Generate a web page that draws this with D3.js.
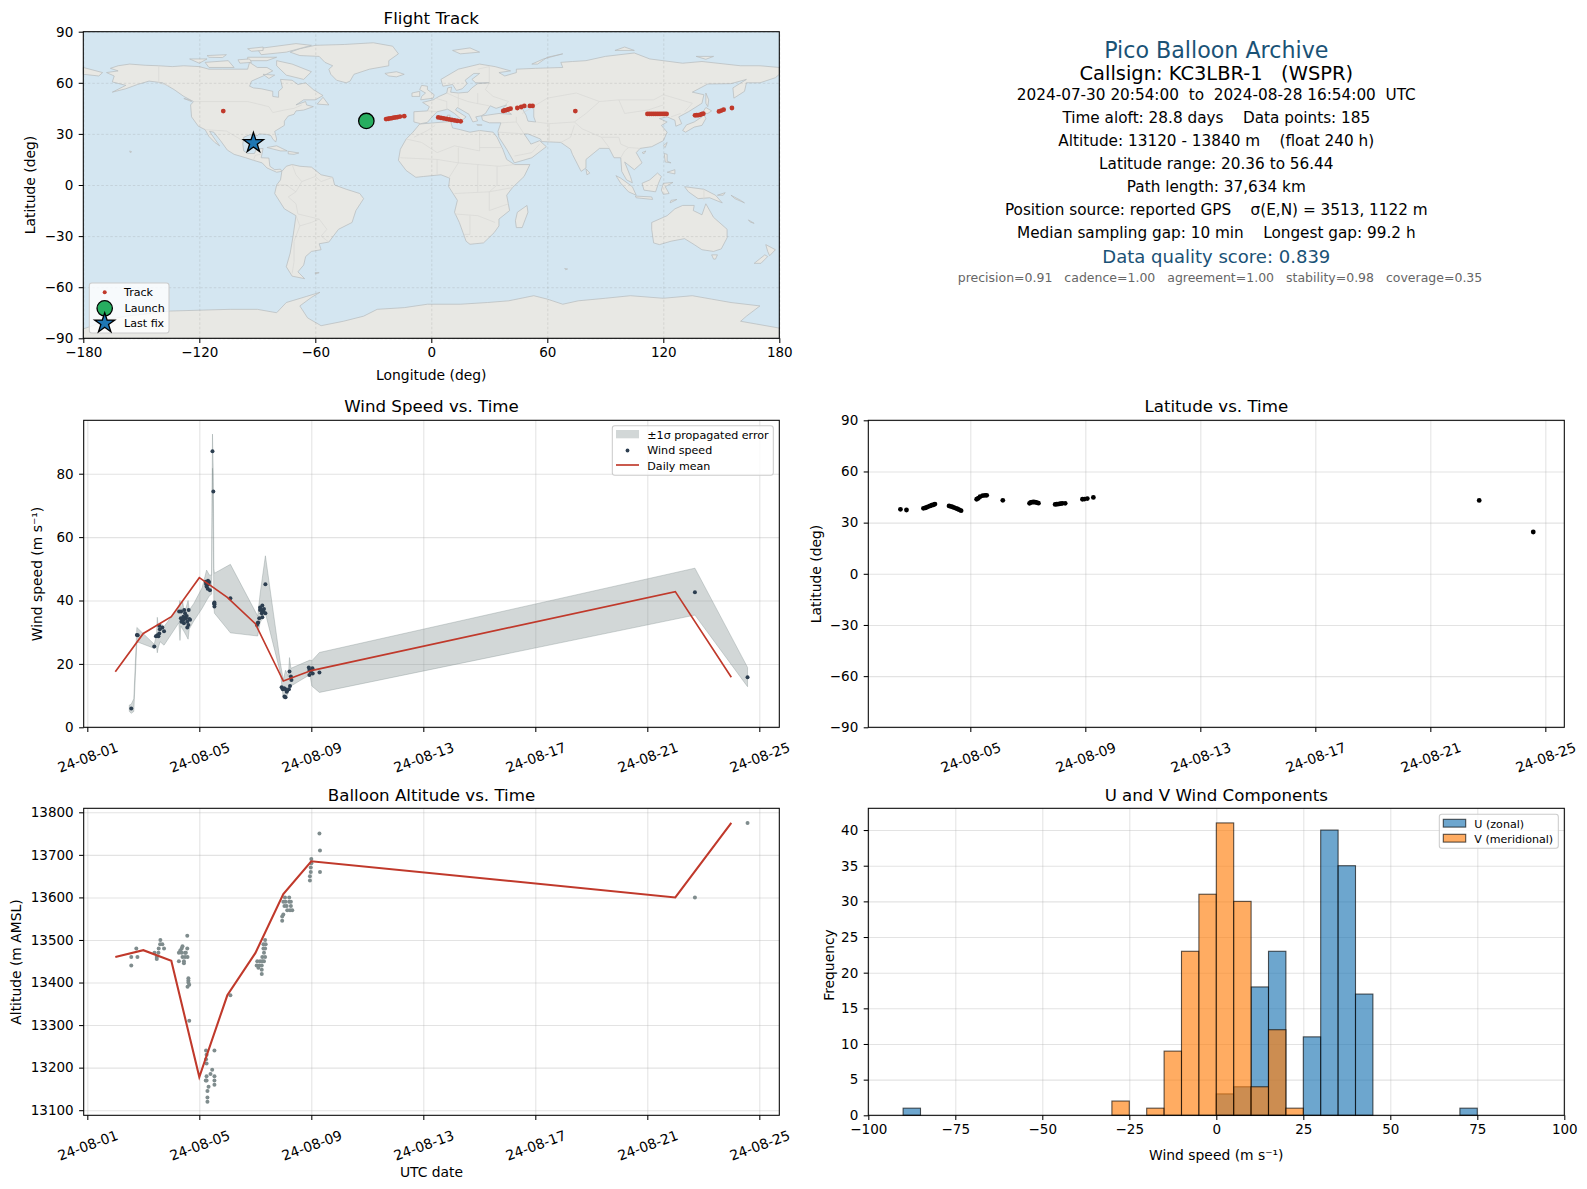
<!DOCTYPE html>
<html>
<head>
<meta charset="utf-8">
<script src="https://cdnjs.cloudflare.com/ajax/libs/d3/7.8.5/d3.min.js"></script>
<style>
body { margin: 0; background: #fff; }
text { font-family: "DejaVu Sans", sans-serif; white-space: pre; fill: #000; }
.axis path, .axis line { stroke: #000; stroke-width: 1.05; }
.axis text { font-size: 13.5px; }
.grid line { stroke: #b0b0b0; stroke-width: 1.05; stroke-opacity: 0.35; }
.map-grid line { stroke: #808080; stroke-width: 0.7; stroke-opacity: 0.28; stroke-dasharray: 2.5 2; }
</style>
</head>
<body>
<svg id="fig" width="1587" height="1189"></svg>
<script>
// ---- track (lon / lat)
var track_lon = [-107.6,-23.4,-22.3,-21.3,-20.3,-19.4,-18.4,-17.4,-16.2,-14,3.6,5,6.4,7.8,9.2,10.6,12,13.4,15.2,37.2,38,38.8,39.5,40.2,41,44.5,46.5,48.1,51,52.4,74.5,111.8,112.8,113.8,114.8,115.8,116.8,117.8,118.8,119.8,120.8,121.7,136.4,137.2,138,139,139.8,140.7,148.8,150,151.2,155.5]
var track_lat = [43.4,38.7,38.9,39.1,39.3,39.5,39.7,39.9,40.2,40.4,39.7,39.4,39.1,38.8,38.5,38.2,37.9,37.6,37.4,43.5,43.8,44,44.3,44.6,44.8,45.2,45.8,46.4,46.4,46.4,43.4,41.7,41.7,41.7,41.7,41.7,41.7,41.7,41.7,41.7,41.7,41.7,40.9,41,41,41.2,41.6,41.9,43.2,43.7,44.2,45.2]
var launch_pos = [-33.6, 37.6]
var last_pos = [-92, 24.7]

// ---- wind speed
var wind_days = [2.57,2.77,2.8,3.39,3.57,3.68,3.74,3.59,3.57,3.54,3.45,3.5,4.28,4.35,4.46,4.62,4.34,4.43,4.52,4.64,4.36,4.45,4.57,4.61,4.57,4.49,4.41,4.55,4.67,4.45,5.23,5.31,5.24,5.33,5.26,5.3,5.38,5.27,5.35,5.47,5.5,5.54,5.54,5.54,5.53,6.11,7.06,7.1,7.08,7.14,7.25,7.17,7.25,7.31,7.23,7.29,7.36,7.17,7.36,7.23,7.94,8.03,8.12,8.2,8.04,8.08,8.24,8.29,8.27,8.22,7.98,8.08,8.14,8.91,9.04,8.93,9.05,8.93,8.98,9.29,22.7,24.58]
var wind_speed = [5.9,29.1,29,25.5,32,31.5,30.3,30.9,29.6,28.7,28.7,29,36.5,36.5,37,37,34.4,34.9,34.4,34.2,33.3,32.8,33.3,32.3,31.5,36,33.6,35.1,33.9,34.1,45.9,46.2,45.2,45.2,44.4,43.7,43.2,44.9,45.8,87.1,74.4,39.4,38.8,38.1,39.1,40.7,32.3,33.1,32.8,34.4,34.7,37.8,38.4,37.3,37,36.5,36,37,45.1,36,12.6,12.3,11.2,12,9.7,9.5,13,14.9,16,17.6,12,12,11.6,18.9,18.6,18.1,17,16.5,17.6,17.3,42.6,15.8]
var band_days = [2.5,2.57,2.66,2.77,3.39,3.47,3.5,3.53,3.6,3.74,4.27,4.31,4.34,4.4,4.47,4.6,4.64,4.8,5.1,5.26,5.36,5.44,5.47,5.5,5.52,5.54,6.11,7.085,7.17,7.36,7.9,8.0,8.08,8.18,8.22,8.27,8.95,9.02,9.29,22.7,24.58]
var band_low = [5,4.4,5,27,24.9,25.5,23.5,25,27,25.9,33,27.4,32,31,30,27.8,31,33.5,37.5,40,41.5,42,81.7,62,38,36,29.8,28.8,33,36,17,9,9,11,13,13,16.6,13,11,35.4,12.8]
var band_high = [7,7.3,9,31.5,26.2,29,34.7,32,33,31.8,38,40,36,40,36,40,37,39,44,49.6,48,48,92.5,80,50,48.6,51.4,35.1,42,54.1,20,15,18,16,22,18.6,21.2,21,23.6,50.2,18.9]
var mean_days = [2,3,4,5,6,7,8,9,22,24]
var wind_mean = [17.5,29.6,34.9,47.2,41,32.7,14.6,17.9,42.8,15.8]

// ---- latitude
var lat_days = [2.57,2.78,3.37,3.43,3.48,3.54,3.6,3.66,3.72,3.77,4.26,4.32,4.38,4.44,4.5,4.56,4.62,4.68,5.22,5.28,5.34,5.43,5.51,5.57,6.13,7.06,7.1,7.15,7.2,7.25,7.3,7.37,7.95,8,8.05,8.1,8.15,8.2,8.3,8.9,8.97,9.07,9.28,22.7,24.58]
var lat_vals = [37.8,37.4,38.4,38.7,39,39.4,39.8,40.2,40.5,40.9,39.8,39.5,39.2,38.8,38.4,38,37.5,37,43.7,44.3,45.2,45.8,46,46,43.1,41.3,41.8,42,42.1,42,41.8,41.4,40.7,40.8,40.9,41,41.2,41.3,41.3,43.7,43.8,44.1,44.8,43,24.5]

// ---- altitude
var alt_days = [2.57,2.57,2.75,2.79,3.4,3.54,3.48,3.48,3.55,3.6,3.68,3.61,3.74,4.57,4.37,4.57,4.27,4.37,4.49,4.27,4.45,4.4,4.49,4.58,4.45,4.4,4.32,4.52,4.61,4.61,4.61,4.58,4.64,4.64,5.24,5.54,5.26,5.24,5.26,5.46,5.26,5.4,5.23,5.54,5.54,5.33,5.54,5.29,5.29,5.29,5.26,6.11,7.35,7.29,7.37,7.29,7.35,7.31,7.25,7.35,7.07,7.17,7.25,7.31,7.05,7.14,7.23,7.11,7.23,7.23,8.06,8.21,8,8.08,8.21,8.27,8.04,8.12,8.27,8.14,8.24,8.32,8,7.96,7.96,8.95,8.95,8.98,8.98,9,9,9.31,9.31,9.29,22.7,24.58]
var alt_vals = [13440,13460,13480,13460,13470,13470,13460,13455,13480,13490,13490,13500,13480,13510,13480,13480,13470,13470,13470,13450,13450,13485,13460,13460,13445,13460,13475,13470,13410,13405,13400,13390,13395,13310,13240,13240,13230,13220,13210,13195,13180,13185,13170,13180,13170,13155,13160,13145,13130,13120,13170,13370,13500,13490,13490,13480,13480,13470,13460,13460,13450,13450,13450,13450,13440,13440,13440,13435,13430,13420,13600,13600,13590,13590,13590,13590,13580,13580,13580,13570,13570,13570,13560,13555,13545,13640,13650,13660,13670,13680,13690,13660,13710,13750,13600,13775]
var alt_mean = [13460,13476,13451,13178,13370,13469,13608,13685,13600,13775]

// ---- histogram, 5 m/s bins from -100
var bin_edges = d3.range(-100, 100, 5)
var u_counts = [0,0,1,0,0,0,0,0,0,0,0,0,0,0,0,0,0,0,0,0,3,4,18,23,0,11,40,35,17,0,0,0,0,0,1,0,0,0,0,0]
var v_counts = [0,0,0,0,0,0,0,0,0,0,0,0,0,0,2,0,1,9,23,31,41,30,4,12,1,0,0,0,0,0,0,0,0,0,0,0,0,0,0,0]

var date_ticks = [1,5,9,13,17,21,25]
var map_x_ticks = [-180,-120,-60,0,60,120,180]
var map_y_ticks = [-90,-60,-30,0,30,60,90]

var info_lines = [
	["Pico Balloon Archive", 1216.3, 58, 22.2, "#1a5276"],
	["Callsign: KC3LBR-1   (WSPR)", 1216.3, 80, 19.44, "#000"],
	["2024-07-30 20:54:00  to  2024-08-28 16:54:00  UTC", 1216.3, 100, 15.28, "#000"],
	["Time aloft: 28.8 days    Data points: 185", 1216.3, 123.3, 15.28, "#000"],
	["Altitude: 13120 - 13840 m    (float 240 h)", 1216.3, 146.3, 15.28, "#000"],
	["Latitude range: 20.36 to 56.44", 1216.3, 169, 15.28, "#000"],
	["Path length: 37,634 km", 1216.3, 192, 15.28, "#000"],
	["Position source: reported GPS    σ(E,N) = 3513, 1122 m", 1216.3, 215, 15.28, "#000"],
	["Median sampling gap: 10 min    Longest gap: 99.2 h", 1216.3, 237.7, 15.28, "#000"],
	["Data quality score: 0.839", 1216.3, 262.7, 18.05, "#1a5276"],
	["precision=0.91   cadence=1.00   agreement=1.00   stability=0.98   coverage=0.35", 1220, 281.7, 12.5, "#666666"]
]

// rough coastlines, lon/lat
var land = [
	[[-168,66],[-162,67],[-166,68.5],[-162,70],[-156,71],[-148,70.3],[-141,70],[-134,69.5],[-128,70],[-120,69.5],[-115,68],[-108,68],[-101,68],[-95,68],[-94,72],[-90,69],[-85,69],[-82,67],[-87,64],[-93,61],[-94,58],[-92,57],[-88,56.5],[-82,55],[-82,52],[-79,51.5],[-79,55],[-77,57],[-78,62],[-72,61.5],[-69,59],[-65,60],[-61,56],[-56,52.5],[-60,50],[-66,50],[-70,47],[-65,49],[-64.5,47],[-61,46],[-66,44],[-70,43.5],[-71,41.5],[-74,40.5],[-76,37.5],[-76,35],[-81,31.5],[-80,27],[-80.5,25.2],[-82,27],[-83,29],[-85,29.7],[-89,30],[-90,29],[-94,29.5],[-97,28],[-97.5,24],[-97,20],[-95,18.5],[-91.5,18.5],[-90.5,21],[-87,21.5],[-88,16],[-84,15.8],[-83.5,11],[-81,9],[-78,9.3],[-77.3,8],[-80,7.5],[-85,10],[-87.5,13],[-92,14.5],[-96,16],[-102,18],[-105.5,20.5],[-109,26],[-112.5,31],[-114.7,31.5],[-112,27],[-109.5,23],[-112,25],[-115,28.5],[-117,32.5],[-120.5,34.5],[-124,40],[-124.5,47],[-123,49],[-128,52],[-133,56],[-139,60],[-146,61],[-152,59],[-158,56.5],[-165,54.5],[-158,58.5],[-165,60.5],[-164,64]],
	[[-77.3,8],[-75,11],[-72,12],[-68,11],[-62,10.5],[-57,6],[-51,4.5],[-50,0],[-44,-2.5],[-37,-5],[-35,-8],[-39,-15],[-41,-22],[-48,-26],[-53,-33.5],[-58,-34.5],[-57,-38],[-62,-39],[-65,-42],[-66,-47],[-69,-51],[-65.5,-55],[-72,-53.5],[-75,-48],[-73,-40],[-71.5,-30],[-70,-18],[-76,-14],[-81,-5],[-80,0],[-78,3]],
	[[-73,78],[-68,80],[-60,82],[-45,82.5],[-30,83.5],[-20,81.5],[-17,77],[-22,73],[-22,70],[-32,68],[-40,65],[-42,61],[-44,60],[-49,61.5],[-52,65],[-53,68],[-51,70],[-55,72],[-58,75.5],[-68,76]],
	[[-80,73],[-72,71],[-62,66.5],[-66,62],[-75,64.5],[-80,70]],
	[[-117,72],[-105,73],[-102,69],[-115,69]],
	[[-90,80],[-70,83],[-62,82],[-75,78],[-88,76.5]],
	[[-125,74],[-116,74],[-120,71.5]],
	[[-95,75],[-80,75],[-85,73],[-95,73]],
	[[-100,73.5],[-94,74],[-93,72],[-99,71.5]],
	[[-116,76],[-106,76.5],[-108,74.8],[-115,75]],
	[[-95,80],[-87,81],[-87,79],[-93,78.5]],
	[[-87,65],[-81,64.5],[-84,62.5]],
	[[-59,47.5],[-53,47],[-56,51.5]],
	[[-128,50.8],[-124,49],[-125,50]],
	[[-85,22],[-80,23],[-74.5,20],[-78,20]],
	[[-74,19.8],[-68.5,18.8],[-71,18],[-74,18.3]],
	[[-156,20],[-155,19.5],[-155.7,19]],
	[[-6,35.8],[10,37.3],[11,33.5],[15,32.5],[20,31],[25,32],[32,31],[34,28],[37,21],[39,15],[43,12],[51,12],[48,5],[42,-1.5],[39,-6],[40.5,-15],[35,-20],[35,-24],[32.5,-28],[27,-34],[20,-34.8],[18,-33],[14.5,-22],[12,-16],[13.5,-9],[9,-1],[9.5,4],[5,6],[-4,5],[-8,4.5],[-13,8.5],[-17,14.5],[-16,21],[-13,27],[-9.5,31]],
	[[-9,37],[-9,43],[-2,43.5],[-1,46],[-4.5,48.5],[1,50],[4,52],[8,54],[8.5,57],[10.5,57.5],[10,54.5],[14,54],[19,54.5],[21,57],[24,59.5],[30,60],[23,60],[21,62],[25,65.5],[22,65.5],[17.5,61.5],[18.5,59.5],[16,56.5],[13,55.5],[11,59],[6,58],[5,62],[14,68],[25,71],[33,69.5],[41,67],[35,66],[38,64],[44,66],[44,68],[54,68.5],[68,69],[67,72],[73,72.5],[80,73],[90,75.5],[105,77.5],[113,74],[130,71.5],[140,72.5],[160,70],[170,70],[180,69],[180,65],[178,63],[170,60],[163,60],[162,55],[156.5,51],[156,57],[163,62],[155,59.5],[143,59.3],[135,54.5],[141,53],[140,48],[133,43],[128,40],[129.5,36],[126.5,34.5],[126,38],[122,40],[118,39],[122,37],[119,35],[122,31],[120,26],[114,22.5],[108,21.5],[106,19],[109,13],[105,9],[100,13.5],[103,5],[104,1.3],[101,3],[98.5,8],[98,16],[94.5,16],[92,21.5],[87,21.5],[80,15],[80,10],[77.5,8],[73,18],[72,21],[67,25],[57,25.5],[56.5,27],[50,30],[48,30],[51,25],[51.5,24],[56,26],[59.5,22.5],[52,16],[43,13],[39,21],[35,28],[34.5,31.5],[36,36.5],[30,36.5],[26.5,38],[26,40.5],[29,41],[35,42],[41.5,41.5],[37,45],[39,47],[33.5,45],[30.5,46.5],[28,42],[26,40.7],[23,40],[24,37.7],[21.5,37],[19.5,41.5],[13.5,45.5],[12.5,44],[18,40],[16,38],[12,42],[8.5,44.5],[3,43],[0,39.5],[-2,36.8],[-5.5,36]],
	[[-180,65],[-172,64],[-170,66],[-180,69]],
	[[-5.5,50],[1,51],[1.5,53],[-2,56],[-2,58],[-5,58.5],[-6,56],[-3,54],[-5,52]],
	[[-10,52],[-6,52],[-6,55],[-10,54]],
	[[-24,65.5],[-18,66.5],[-14,65],[-18,63.5],[-22,64]],
	[[11,79],[20,80.5],[25,78],[15,77]],
	[[52,71],[58,74],[68,77],[60,75],[55,71]],
	[[95,79],[105,79],[100,81]],
	[[137,75.5],[146,75.5],[142,73.8]],
	[[142,54],[143.5,50],[143,46],[142,48]],
	[[130,32],[131.5,31],[136,34],[140,35],[142,39],[141,41.5],[140,40],[136,37],[132,35.3]],
	[[140,42],[142,45.5],[145,43.5],[143,42]],
	[[120,23],[122,25],[121,22]],
	[[109,19],[111,20],[110,18.3]],
	[[120.5,18.5],[122,18],[122,14],[124,13],[121,13.5]],
	[[122,7.5],[126,9],[126,6.5]],
	[[109,1],[113,3],[117,7],[119,5],[117.5,1],[116,-4],[110,-3]],
	[[95.5,5.5],[98,4],[104,-1],[106,-6],[102,-4],[98,1]],
	[[105.5,-6.5],[114,-7],[114.5,-8.5],[106,-7.5]],
	[[120,1],[125,1.5],[121,-1],[123,-5],[120,-5.5],[119,-3]],
	[[131,-1],[141,-2.5],[147,-6],[150.5,-10.5],[144,-7.5],[138,-8],[133,-4]],
	[[148,-6],[152,-4.5],[151,-6]],
	[[155,-6],[160,-9],[162,-10.5],[157,-8]],
	[[124,-9],[127,-8.5],[123.5,-10.5]],
	[[80,9.5],[82,7],[80.5,6]],
	[[8.3,41],[9.7,41],[9.5,39],[8.5,39]],
	[[12.5,38],[15.5,38.2],[15,36.7]],
	[[23.5,35.5],[26.3,35.2],[24,35]],
	[[49.5,-12],[50,-16],[47,-25],[44,-25],[43.5,-21],[44.5,-16]],
	[[114,-22],[122,-18],[126,-14],[130,-12],[136,-12],[135.5,-15],[140,-17.5],[142,-11],[146,-19],[153,-26],[153,-31],[150,-37.5],[146,-39],[140,-38],[136,-35],[131,-31.5],[124,-33],[118,-35],[115,-34],[114,-26]],
	[[145,-41],[148,-41],[147,-43.5],[146,-43.5]],
	[[173,-35],[178,-38],[175,-41.5],[174,-39]],
	[[172.5,-41],[174,-42],[170.5,-46],[167,-46]],
	[[164,-20.5],[167,-22.5],[165,-21.8]],
	[[69,-49],[70.5,-49.3],[69.5,-49.8]],
	[[-60,-51.3],[-58,-51.5],[-60,-52.2]],
	[[-180,-90],[-180,-84.5],[-165,-78.5],[-158,-77],[-150,-76],[-135,-74],[-120,-73.5],[-104,-73],[-90,-73],[-80,-75],[-75,-69],[-64.5,-65.4],[-57.6,-63],[-62,-66],[-68,-71],[-64,-78],[-57,-82.6],[-45.5,-80],[-35,-77],[-28,-73],[-14,-72],[-2,-70],[15,-70],[29,-69],[40,-68],[53,-65],[60,-67],[68,-70],[76,-68],[90,-66.5],[103,-65],[120,-66.5],[135,-65],[145,-67],[155,-69],[170,-71],[163,-77],[160,-80],[180,-84],[180,-90]]
]
var lakes = [
	[[47,45],[53,46.5],[53,40],[54,37],[50,37.5],[49,41]]
]
var borders = [
	[[-123,49],[-95,49],[-84,46],[-82,42.5],[-76,44],[-71,45],[-67,47]],
	[[-141,70],[-141,60],[-135,58]],
	[[-117,32.5],[-106,31.7],[-97.5,26]],
	[[-92,14.5],[-91,17.5],[-88,18]],
	[[-72,12],[-70,6],[-67,2],[-70,-4],[-74,-7],[-70,-11],[-69,-17],[-58,-20],[-54,-26],[-57,-30],[-53,-33.5]],
	[[-67,2],[-60,5],[-57,2],[-51,4.5]],
	[[-70,-18],[-68,-24],[-71,-33],[-71,-45],[-72,-52]],
	[[-80,0],[-75,0],[-70,-4]],
	[[-58,-20],[-62,-22],[-68,-24]],
	[[-9,28],[-2,32],[2,35]],[[-13,27],[-5,25],[3,19],[12,23],[25,20],[25,32]],[[25,22],[37,22]],
	[[-16,16],[3,15],[14,13],[24,12],[35,11],[43,12]],[[3,6],[3,15]],[[9,4],[14,13]],[[14,13],[14,22]],
	[[12,-5],[30,-4],[42,-1.5]],[[30,-4],[30,-15],[40,-11]],[[12,-17],[24,-18],[33,-22]],[[20,-18],[20,-29],[17,-29]],[[24,12],[24,-4]],[[34,11],[34,0],[30,-4]],
	[[-2,43.5],[3,43]],[[2,51],[8,49],[8,44]],[[8,54],[14,51],[19,49],[23,48],[30,46.5]],[[14,54],[14,46]],[[24,54],[24,48]],[[30,60],[28,56],[32,52],[40,49],[38,47]],[[24,68],[30,69.5],[30,60]],
	[[36,36.5],[44,37],[48,30]],[[44,37],[44,40]],[[35,31],[48,30]],[[43,17],[52,19],[56,24]],
	[[47,42],[60,51],[75,54],[87,49],[97,50],[115,50],[120,53],[135,48],[131,43]],
	[[87,49],[80,42],[74,37],[61,36],[54,37]],[[61,36],[61,25]],[[74,37],[78,33],[88,28],[97,28],[98,24],[102,22],[108,21.5]],[[67,25],[72,28],[74,35]],[[88,28],[92,22]],[[98,16],[100,20],[102,22]],[[97,50],[100,42],[112,44],[120,47]],[[129,42],[124,40]],
	[[141,-2.5],[141,-9]]
]

var svg = d3.select("#fig")

var line_color = "#c0392b"
var font_small = 11.1
var font_title = 16.67
var font_label = 13.89

function add_text(g, txt, x, y, size, anchor, rot, color) {
	var t = g.append("text").text(txt)
		.attr("font-size", size)
		.attr("text-anchor", anchor || "middle")
		.style("fill", color || "#000")
	if (rot !== undefined && rot !== null) {
		t.attr("transform", "translate(" + x + "," + y + ") rotate(" + rot + ")")
	} else {
		t.attr("x", x).attr("y", y)
	}
	return t
}

// common axes frame: gridlines under, frame + axes over
function make_panel(box, x, y, xticks, yticks, xfmt, yfmt, opts) {
	opts = opts || {}
	var w = box.right - box.left, h = box.bottom - box.top
	var under = svg.append("g").attr("transform", "translate(" + box.left + "," + box.top + ")")
	var marks = svg.append("g").attr("transform", "translate(" + box.left + "," + box.top + ")")
	var over = svg.append("g").attr("transform", "translate(" + box.left + "," + box.top + ")")
	if (!opts.grid_over) {
		draw_grid(under)
	}
	function draw_grid(g) {
		var cls = opts.grid_over ? "map-grid" : "grid"
		g.append("g").attr("class", cls).attr("transform", "translate(0," + h + ")")
			.call(d3.axisBottom(x).tickValues(xticks).tickSize(-h).tickFormat(""))
			.select(".domain").remove()
		g.append("g").attr("class", cls)
			.call(d3.axisLeft(y).tickValues(yticks).tickSize(-w).tickFormat(""))
			.select(".domain").remove()
	}
	over.append("rect").attr("width", w).attr("height", h)
		.attr("fill", "none").attr("stroke", "#000").attr("stroke-width", 1.05)
	var xax = over.append("g").attr("class", "axis").attr("transform", "translate(0," + h + ")")
		.call(d3.axisBottom(x).tickValues(xticks).tickSize(4.6).tickPadding(4.6).tickFormat(xfmt))
	var yax = over.append("g").attr("class", "axis")
		.call(d3.axisLeft(y).tickValues(yticks).tickSize(4.6).tickPadding(5.4).tickFormat(yfmt))
	xax.select(".domain").remove()
	yax.select(".domain").remove()
	if (opts.rotate) {
		xax.selectAll("text")
			.style("font-size", font_label + "px")
			.attr("text-anchor", "middle")
			.attr("dy", null).attr("y", null)
			.attr("dominant-baseline", "central")
			.attr("transform", "translate(0,30) rotate(-20)")
	}
	return { under: under, marks: marks, over: over, draw_grid: draw_grid, w: w, h: h }
}

var minus = function(v) { return String(v).replace("-", "\u2212") }
var date_fmt = function(d) { return "24-08-" + (d < 10 ? "0" + d : d) }

var col_left = { left: 83.7, right: 779.3 }
var col_right = { left: 868.3, right: 1564.3 }
var row_mid = { top: 420.3, bottom: 727.3 }
var row_bot = { top: 808.3, bottom: 1115.3 }

// ---- map
var map_box = { left: 83.3, right: 779.3, top: 31.7, bottom: 338.3 }
var map_x = d3.scaleLinear().domain([-180, 180]).range([0, map_box.right - map_box.left])
var map_y = d3.scaleLinear().domain([-90, 90]).range([map_box.bottom - map_box.top, 0])
var map = make_panel(map_box, map_x, map_y, map_x_ticks, map_y_ticks, minus, minus, { grid_over: true })
var poly = d3.line().x(function(d) { return map_x(d[0]) }).y(function(d) { return map_y(d[1]) })

map.under.append("rect").attr("width", map.w).attr("height", map.h).attr("fill", "#d4e6f1")
map.under.selectAll("path.land").data(land).enter().append("path")
	.attr("class", "land")
	.attr("d", function(d) { return poly(d) + "Z" })
	.attr("fill", "#e8e8e4").attr("stroke", "#b6babc").attr("stroke-width", 0.7)
map.under.selectAll("path.lake").data(lakes).enter().append("path")
	.attr("class", "lake")
	.attr("d", function(d) { return poly(d) + "Z" })
	.attr("fill", "#d4e6f1").attr("stroke", "#b6babc").attr("stroke-width", 0.7)
map.under.selectAll("path.border").data(borders).enter().append("path")
	.attr("class", "border")
	.attr("d", poly)
	.attr("fill", "none").attr("stroke", "#d9d9d5").attr("stroke-width", 0.7)
map.draw_grid(map.under)
map.marks.selectAll("circle.trk").data(track_lon).enter().append("circle")
	.attr("class", "trk")
	.attr("cx", function(d) { return map_x(d) })
	.attr("cy", function(d, i) { return map_y(track_lat[i]) })
	.attr("r", 2.4).attr("fill", line_color)
map.marks.append("circle")
	.attr("cx", map_x(launch_pos[0])).attr("cy", map_y(launch_pos[1]))
	.attr("r", 7.7).attr("fill", "#27ae60").attr("stroke", "#000").attr("stroke-width", 1.3)
var star = d3.symbol().type(d3.symbolStar).size(125)
map.marks.append("path").attr("d", star())
	.attr("transform", "translate(" + map_x(last_pos[0]) + "," + map_y(last_pos[1]) + ")")
	.attr("fill", "#1f77b4").attr("stroke", "#000").attr("stroke-width", 1.3)

// ---- wind speed
var wind_x = d3.scaleLinear().domain([0.871, 25.714]).range([0, 695.6])
var wind_y = d3.scaleLinear().domain([0, 96.85]).range([307, 0])
var wp = make_panel({ left: col_left.left, right: col_left.right, top: row_mid.top, bottom: row_mid.bottom }, wind_x, wind_y, date_ticks, [0,20,40,60,80], date_fmt, String, { rotate: true })
var band = d3.area()
	.x(function(d) { return wind_x(d) })
	.y0(function(d, i) { return wind_y(band_low[i]) })
	.y1(function(d, i) { return wind_y(band_high[i]) })
wp.marks.append("path").attr("d", band(band_days))
	.attr("fill", "#7f8c8d").attr("fill-opacity", 0.35)
	.attr("stroke", "#7f8c8d").attr("stroke-opacity", 0.35).attr("stroke-width", 1)
wp.marks.selectAll("circle").data(wind_days).enter().append("circle")
	.attr("cx", function(d) { return wind_x(d) })
	.attr("cy", function(d, i) { return wind_y(wind_speed[i]) })
	.attr("r", 2).attr("fill", "#2c3e50")
var wind_line = d3.line()
	.x(function(d) { return wind_x(d) })
	.y(function(d, i) { return wind_y(wind_mean[i]) })
wp.marks.append("path").attr("d", wind_line(mean_days))
	.attr("fill", "none").attr("stroke", line_color).attr("stroke-width", 1.67)

// ---- latitude
var lat_x = d3.scaleLinear().domain([1.452, 25.66]).range([0, 696])
var lat_y = d3.scaleLinear().domain([-90, 90]).range([307, 0])
var lp = make_panel({ left: col_right.left, right: col_right.right, top: row_mid.top, bottom: row_mid.bottom }, lat_x, lat_y, date_ticks.slice(1), map_y_ticks, date_fmt, minus, { rotate: true })
lp.marks.selectAll("circle").data(lat_days).enter().append("circle")
	.attr("cx", function(d) { return lat_x(d) })
	.attr("cy", function(d, i) { return lat_y(lat_vals[i]) })
	.attr("r", 2.4).attr("fill", "#000")

// ---- altitude
var alt_x = d3.scaleLinear().domain([0.871, 25.714]).range([0, 695.6])
var alt_y = d3.scaleLinear().domain([13088, 13809.4]).range([307, 0])
var ap = make_panel({ left: col_left.left, right: col_left.right, top: row_bot.top, bottom: row_bot.bottom }, alt_x, alt_y, date_ticks, d3.range(13100, 13801, 100), date_fmt, String, { rotate: true })
ap.marks.selectAll("circle").data(alt_days).enter().append("circle")
	.attr("cx", function(d) { return alt_x(d) })
	.attr("cy", function(d, i) { return alt_y(alt_vals[i]) })
	.attr("r", 2).attr("fill", "#7f8c8d")
var alt_line = d3.line()
	.x(function(d) { return alt_x(d) })
	.y(function(d, i) { return alt_y(alt_mean[i]) })
ap.marks.append("path").attr("d", alt_line(mean_days))
	.attr("fill", "none").attr("stroke", line_color).attr("stroke-width", 2.08)

// ---- histogram
var hist_x = d3.scaleLinear().domain([-100, 100]).range([0, 696])
var hist_y = d3.scaleLinear().domain([0, 43.05]).range([307, 0])
var hp = make_panel({ left: col_right.left, right: col_right.right, top: row_bot.top, bottom: row_bot.bottom }, hist_x, hist_y, d3.range(-100, 101, 25), d3.range(0, 41, 5), minus, String)
function draw_bars(counts, color) {
	hp.marks.append("g").selectAll("rect").data(counts).enter().append("rect")
		.attr("x", function(d, i) { return hist_x(bin_edges[i]) })
		.attr("width", function(d, i) { return hist_x(bin_edges[i] + 5) - hist_x(bin_edges[i]) })
		.attr("y", function(d) { return hist_y(d) })
		.attr("height", function(d) { return hist_y(0) - hist_y(d) })
		.attr("fill", color).attr("fill-opacity", 0.65)
		.attr("stroke", "#000").attr("stroke-opacity", 0.65).attr("stroke-width", 1.1)
}
draw_bars(u_counts, "#1f77b4")
draw_bars(v_counts, "#ff7f0e")

// ---- titles, labels
var top_g = svg.append("g")
add_text(top_g, "Flight Track", 431.3, 24, font_title)
add_text(top_g, "Wind Speed vs. Time", 431.5, 411.5, font_title)
add_text(top_g, "Latitude vs. Time", 1216.3, 411.5, font_title)
add_text(top_g, "Balloon Altitude vs. Time", 431.5, 801, font_title)
add_text(top_g, "U and V Wind Components", 1216.3, 801, font_title)
add_text(top_g, "Longitude (deg)", 431.3, 380, font_label)
add_text(top_g, "UTC date", 431.5, 1177, font_label)
add_text(top_g, "Wind speed (m s\u207B\u00B9)", 1216.3, 1159.5, font_label)
add_text(top_g, "Latitude (deg)", 35, 185, font_label, "middle", -90)
add_text(top_g, "Wind speed (m s\u207B\u00B9)", 42, 574, font_label, "middle", -90)
add_text(top_g, "Latitude (deg)", 821, 574, font_label, "middle", -90)
add_text(top_g, "Altitude (m AMSL)", 20.5, 962, font_label, "middle", -90)
add_text(top_g, "Frequency", 833.5, 965, font_label, "middle", -90)

// ---- info block
top_g.selectAll("text.info").data(info_lines).enter().append("text")
	.attr("class", "info")
	.attr("x", function(d) { return d[1] })
	.attr("y", function(d) { return d[2] })
	.attr("font-size", function(d) { return d[3] })
	.attr("text-anchor", "middle")
	.style("fill", function(d) { return d[4] })
	.text(function(d) { return d[0] })

// ---- legends
function legend_box(x0, x1, y0, y1) {
	return svg.append("rect")
		.attr("x", x0).attr("y", y0).attr("width", x1 - x0).attr("height", y1 - y0)
		.attr("rx", 2.5).attr("fill", "#fff").attr("fill-opacity", 0.8)
		.attr("stroke", "#ccc").attr("stroke-width", 1.05)
}
legend_box(89.3, 169, 283, 333)
var lg = svg.append("g")
lg.append("circle").attr("cx", 104.7).attr("cy", 292.3).attr("r", 2).attr("fill", line_color)
lg.append("circle").attr("cx", 104.7).attr("cy", 308.3).attr("r", 7.7).attr("fill", "#27ae60").attr("stroke", "#000").attr("stroke-width", 1.3)
lg.append("path").attr("d", star()).attr("transform", "translate(104.7,323.3)").attr("fill", "#1f77b4").attr("stroke", "#000").attr("stroke-width", 1.3)
add_text(lg, "Track", 124, 296, font_small, "start")
add_text(lg, "Launch", 124.5, 311.7, font_small, "start")
add_text(lg, "Last fix", 124, 326.7, font_small, "start")

legend_box(612.3, 773.3, 425.7, 475.3)
var lg2 = svg.append("g")
lg2.append("rect").attr("x", 616).attr("y", 430).attr("width", 23).attr("height", 8.3).attr("fill", "#7f8c8d").attr("fill-opacity", 0.35)
lg2.append("circle").attr("cx", 627.5).attr("cy", 450.5).attr("r", 1.9).attr("fill", "#2c3e50")
lg2.append("line").attr("x1", 616).attr("x2", 639).attr("y1", 465).attr("y2", 465).attr("stroke", line_color).attr("stroke-width", 1.67)
add_text(lg2, "\u00B11\u03C3 propagated error", 647.3, 439, font_small, "start")
add_text(lg2, "Wind speed", 647.3, 454.3, font_small, "start")
add_text(lg2, "Daily mean", 647.3, 470, font_small, "start")

legend_box(1439.3, 1558.3, 814.3, 848.3)
var lg3 = svg.append("g")
lg3.append("rect").attr("x", 1443.3).attr("y", 819.3).attr("width", 22.4).attr("height", 7.8).attr("fill", "#1f77b4").attr("fill-opacity", 0.65).attr("stroke", "#000").attr("stroke-opacity", 0.65).attr("stroke-width", 1.1)
lg3.append("rect").attr("x", 1443.3).attr("y", 834.3).attr("width", 22.4).attr("height", 7.8).attr("fill", "#ff7f0e").attr("fill-opacity", 0.65).attr("stroke", "#000").attr("stroke-opacity", 0.65).attr("stroke-width", 1.1)
add_text(lg3, "U (zonal)", 1474.3, 827.7, font_small, "start")
add_text(lg3, "V (meridional)", 1474.3, 842.7, font_small, "start")
</script>
</body>
</html>
